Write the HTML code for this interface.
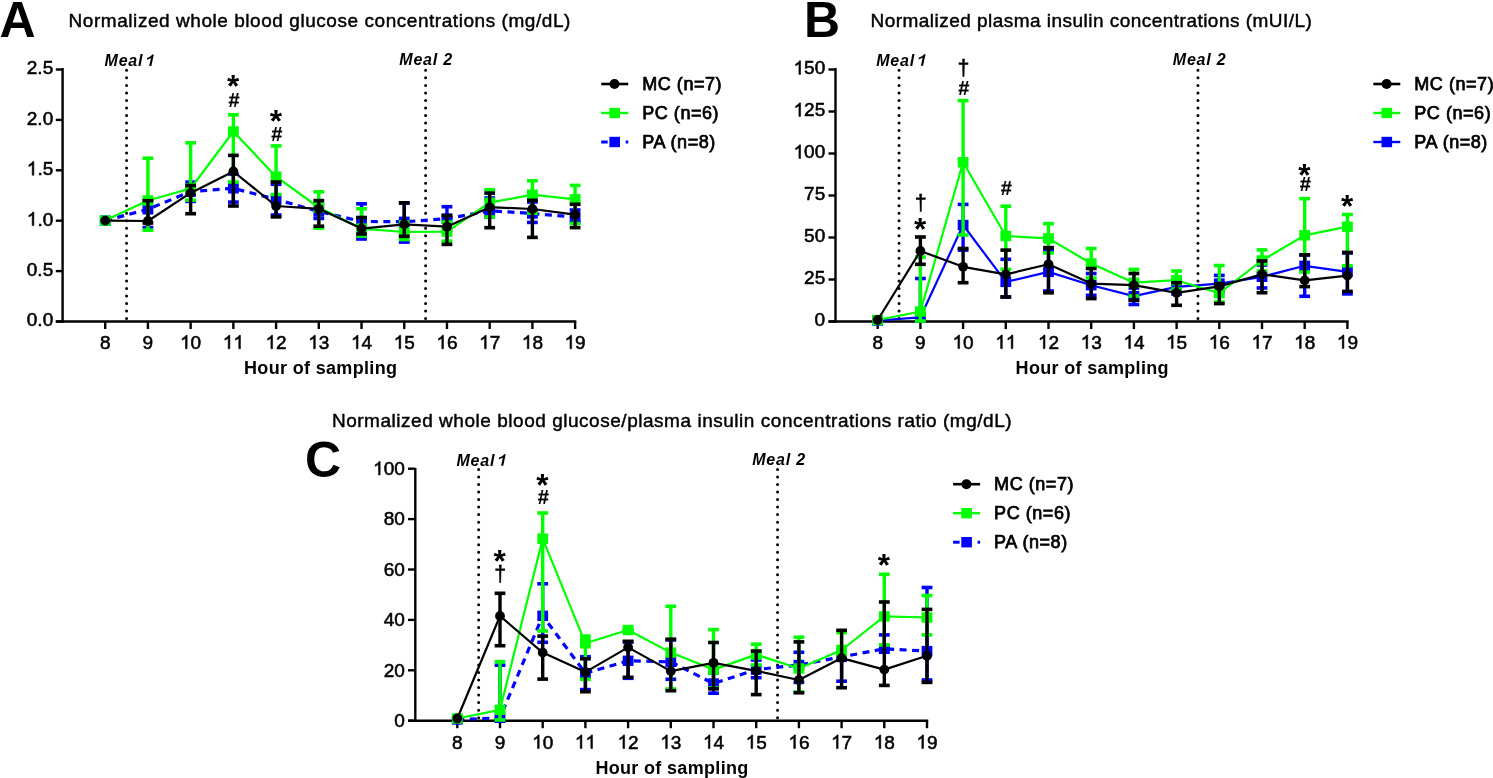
<!DOCTYPE html>
<html><head><meta charset="utf-8"><title>Chart</title>
<style>html,body{margin:0;padding:0;background:#fff;overflow:hidden}svg{display:block;will-change:transform}text{font-family:"Liberation Sans", sans-serif}</style>
</head><body>
<svg width="1493" height="778" viewBox="0 0 1493 778">
<rect width="1493" height="778" fill="#fff"/>
<line x1="62.60" y1="68.00" x2="62.60" y2="322.70" stroke="#000" stroke-width="2.4" />
<line x1="55.80" y1="321.50" x2="576.32" y2="321.50" stroke="#000" stroke-width="2.4" />
<line x1="55.80" y1="321.50" x2="62.60" y2="321.50" stroke="#000" stroke-width="2.4" />
<text x="26.8" y="326.4" font-size="19" font-weight="normal" font-style="normal" text-anchor="start" letter-spacing="0" fill="#000" stroke="#000" stroke-width="0.55">0.0</text>
<line x1="55.80" y1="271.10" x2="62.60" y2="271.10" stroke="#000" stroke-width="2.4" />
<text x="26.8" y="276.0" font-size="19" font-weight="normal" font-style="normal" text-anchor="start" letter-spacing="0" fill="#000" stroke="#000" stroke-width="0.55">0.5</text>
<line x1="55.80" y1="220.70" x2="62.60" y2="220.70" stroke="#000" stroke-width="2.4" />
<path d="M763 0L583 0L583 1147C540 1106 483 1065 412 1024C341 983 278 952 222 931L222 1105C323 1152 411 1210 486 1276C561 1342 614 1406 645 1466L763 1466Z" transform="translate(26.79,225.60) scale(0.00928,-0.00928)" fill="#000" stroke="#000" stroke-width="59.3"/>
<text x="37.4" y="225.6" font-size="19" font-weight="normal" font-style="normal" text-anchor="start" letter-spacing="0" fill="#000" stroke="#000" stroke-width="0.55">.0</text>
<line x1="55.80" y1="170.30" x2="62.60" y2="170.30" stroke="#000" stroke-width="2.4" />
<path d="M763 0L583 0L583 1147C540 1106 483 1065 412 1024C341 983 278 952 222 931L222 1105C323 1152 411 1210 486 1276C561 1342 614 1406 645 1466L763 1466Z" transform="translate(26.79,175.20) scale(0.00928,-0.00928)" fill="#000" stroke="#000" stroke-width="59.3"/>
<text x="37.4" y="175.2" font-size="19" font-weight="normal" font-style="normal" text-anchor="start" letter-spacing="0" fill="#000" stroke="#000" stroke-width="0.55">.5</text>
<line x1="55.80" y1="119.90" x2="62.60" y2="119.90" stroke="#000" stroke-width="2.4" />
<text x="26.8" y="124.8" font-size="19" font-weight="normal" font-style="normal" text-anchor="start" letter-spacing="0" fill="#000" stroke="#000" stroke-width="0.55">2.0</text>
<line x1="55.80" y1="69.50" x2="62.60" y2="69.50" stroke="#000" stroke-width="2.4" />
<text x="26.8" y="74.4" font-size="19" font-weight="normal" font-style="normal" text-anchor="start" letter-spacing="0" fill="#000" stroke="#000" stroke-width="0.55">2.5</text>
<line x1="105.20" y1="321.50" x2="105.20" y2="329.00" stroke="#000" stroke-width="2.4" />
<text x="99.9" y="348.8" font-size="19" font-weight="normal" font-style="normal" text-anchor="start" letter-spacing="0" fill="#000" stroke="#000" stroke-width="0.55">8</text>
<line x1="147.92" y1="321.50" x2="147.92" y2="329.00" stroke="#000" stroke-width="2.4" />
<text x="142.6" y="348.8" font-size="19" font-weight="normal" font-style="normal" text-anchor="start" letter-spacing="0" fill="#000" stroke="#000" stroke-width="0.55">9</text>
<line x1="190.64" y1="321.50" x2="190.64" y2="329.00" stroke="#000" stroke-width="2.4" />
<path d="M763 0L583 0L583 1147C540 1106 483 1065 412 1024C341 983 278 952 222 931L222 1105C323 1152 411 1210 486 1276C561 1342 614 1406 645 1466L763 1466Z" transform="translate(180.07,348.80) scale(0.00928,-0.00928)" fill="#000" stroke="#000" stroke-width="59.3"/>
<text x="190.6" y="348.8" font-size="19" font-weight="normal" font-style="normal" text-anchor="start" letter-spacing="0" fill="#000" stroke="#000" stroke-width="0.55">0</text>
<line x1="233.36" y1="321.50" x2="233.36" y2="329.00" stroke="#000" stroke-width="2.4" />
<path d="M763 0L583 0L583 1147C540 1106 483 1065 412 1024C341 983 278 952 222 931L222 1105C323 1152 411 1210 486 1276C561 1342 614 1406 645 1466L763 1466Z" transform="translate(222.79,348.80) scale(0.00928,-0.00928)" fill="#000" stroke="#000" stroke-width="59.3"/>
<path d="M763 0L583 0L583 1147C540 1106 483 1065 412 1024C341 983 278 952 222 931L222 1105C323 1152 411 1210 486 1276C561 1342 614 1406 645 1466L763 1466Z" transform="translate(233.36,348.80) scale(0.00928,-0.00928)" fill="#000" stroke="#000" stroke-width="59.3"/>
<line x1="276.08" y1="321.50" x2="276.08" y2="329.00" stroke="#000" stroke-width="2.4" />
<path d="M763 0L583 0L583 1147C540 1106 483 1065 412 1024C341 983 278 952 222 931L222 1105C323 1152 411 1210 486 1276C561 1342 614 1406 645 1466L763 1466Z" transform="translate(265.51,348.80) scale(0.00928,-0.00928)" fill="#000" stroke="#000" stroke-width="59.3"/>
<text x="276.1" y="348.8" font-size="19" font-weight="normal" font-style="normal" text-anchor="start" letter-spacing="0" fill="#000" stroke="#000" stroke-width="0.55">2</text>
<line x1="318.80" y1="321.50" x2="318.80" y2="329.00" stroke="#000" stroke-width="2.4" />
<path d="M763 0L583 0L583 1147C540 1106 483 1065 412 1024C341 983 278 952 222 931L222 1105C323 1152 411 1210 486 1276C561 1342 614 1406 645 1466L763 1466Z" transform="translate(308.23,348.80) scale(0.00928,-0.00928)" fill="#000" stroke="#000" stroke-width="59.3"/>
<text x="318.8" y="348.8" font-size="19" font-weight="normal" font-style="normal" text-anchor="start" letter-spacing="0" fill="#000" stroke="#000" stroke-width="0.55">3</text>
<line x1="361.52" y1="321.50" x2="361.52" y2="329.00" stroke="#000" stroke-width="2.4" />
<path d="M763 0L583 0L583 1147C540 1106 483 1065 412 1024C341 983 278 952 222 931L222 1105C323 1152 411 1210 486 1276C561 1342 614 1406 645 1466L763 1466Z" transform="translate(350.95,348.80) scale(0.00928,-0.00928)" fill="#000" stroke="#000" stroke-width="59.3"/>
<text x="361.5" y="348.8" font-size="19" font-weight="normal" font-style="normal" text-anchor="start" letter-spacing="0" fill="#000" stroke="#000" stroke-width="0.55">4</text>
<line x1="404.24" y1="321.50" x2="404.24" y2="329.00" stroke="#000" stroke-width="2.4" />
<path d="M763 0L583 0L583 1147C540 1106 483 1065 412 1024C341 983 278 952 222 931L222 1105C323 1152 411 1210 486 1276C561 1342 614 1406 645 1466L763 1466Z" transform="translate(393.67,348.80) scale(0.00928,-0.00928)" fill="#000" stroke="#000" stroke-width="59.3"/>
<text x="404.2" y="348.8" font-size="19" font-weight="normal" font-style="normal" text-anchor="start" letter-spacing="0" fill="#000" stroke="#000" stroke-width="0.55">5</text>
<line x1="446.96" y1="321.50" x2="446.96" y2="329.00" stroke="#000" stroke-width="2.4" />
<path d="M763 0L583 0L583 1147C540 1106 483 1065 412 1024C341 983 278 952 222 931L222 1105C323 1152 411 1210 486 1276C561 1342 614 1406 645 1466L763 1466Z" transform="translate(436.39,348.80) scale(0.00928,-0.00928)" fill="#000" stroke="#000" stroke-width="59.3"/>
<text x="447.0" y="348.8" font-size="19" font-weight="normal" font-style="normal" text-anchor="start" letter-spacing="0" fill="#000" stroke="#000" stroke-width="0.55">6</text>
<line x1="489.68" y1="321.50" x2="489.68" y2="329.00" stroke="#000" stroke-width="2.4" />
<path d="M763 0L583 0L583 1147C540 1106 483 1065 412 1024C341 983 278 952 222 931L222 1105C323 1152 411 1210 486 1276C561 1342 614 1406 645 1466L763 1466Z" transform="translate(479.11,348.80) scale(0.00928,-0.00928)" fill="#000" stroke="#000" stroke-width="59.3"/>
<text x="489.7" y="348.8" font-size="19" font-weight="normal" font-style="normal" text-anchor="start" letter-spacing="0" fill="#000" stroke="#000" stroke-width="0.55">7</text>
<line x1="532.40" y1="321.50" x2="532.40" y2="329.00" stroke="#000" stroke-width="2.4" />
<path d="M763 0L583 0L583 1147C540 1106 483 1065 412 1024C341 983 278 952 222 931L222 1105C323 1152 411 1210 486 1276C561 1342 614 1406 645 1466L763 1466Z" transform="translate(521.83,348.80) scale(0.00928,-0.00928)" fill="#000" stroke="#000" stroke-width="59.3"/>
<text x="532.4" y="348.8" font-size="19" font-weight="normal" font-style="normal" text-anchor="start" letter-spacing="0" fill="#000" stroke="#000" stroke-width="0.55">8</text>
<line x1="575.12" y1="321.50" x2="575.12" y2="329.00" stroke="#000" stroke-width="2.4" />
<path d="M763 0L583 0L583 1147C540 1106 483 1065 412 1024C341 983 278 952 222 931L222 1105C323 1152 411 1210 486 1276C561 1342 614 1406 645 1466L763 1466Z" transform="translate(564.55,348.80) scale(0.00928,-0.00928)" fill="#000" stroke="#000" stroke-width="59.3"/>
<text x="575.1" y="348.8" font-size="19" font-weight="normal" font-style="normal" text-anchor="start" letter-spacing="0" fill="#000" stroke="#000" stroke-width="0.55">9</text>
<text x="244.0" y="373.9" font-size="18" font-weight="bold" font-style="normal" text-anchor="start" letter-spacing="0.33" fill="#000">Hour of sampling</text>
<line x1="126.56" y1="70.34" x2="126.56" y2="320.50" stroke="#000" stroke-width="3" stroke-dasharray="0 7.52" stroke-linecap="round"/>
<line x1="425.60" y1="70.34" x2="425.60" y2="320.50" stroke="#000" stroke-width="3" stroke-dasharray="0 7.52" stroke-linecap="round"/>
<text x="104.5" y="66.0" font-size="16" font-weight="bold" font-style="italic" text-anchor="start" letter-spacing="0.8" fill="#000">Meal</text>
<path d="M1006 0L731 0L731 1036C620 932 470 850 260 790L260 1040C365 1072 480 1130 590 1215C700 1300 775 1384 810 1466L1006 1466Z" transform="translate(143.50,66.00) skewX(-12) scale(0.00781,-0.00781)" fill="#000"/>
<text x="399.3" y="65.2" font-size="16" font-weight="bold" font-style="italic" text-anchor="start" letter-spacing="0.8" fill="#000">Meal 2</text>
<text x="68.6" y="26.7" font-size="19" font-weight="normal" font-style="normal" text-anchor="start" letter-spacing="0.55" fill="#000" stroke="#000" stroke-width="0.45">Normalized whole blood glucose concentrations (mg/dL)</text>
<text x="-0.5" y="37.2" font-size="50" font-weight="bold" font-style="normal" text-anchor="start" letter-spacing="0" fill="#000">A</text>
<line x1="147.92" y1="200.50" x2="147.92" y2="227.50" stroke="#0000ff" stroke-width="3.4" />
<line x1="142.52" y1="200.50" x2="153.32" y2="200.50" stroke="#0000ff" stroke-width="3.6" />
<line x1="142.52" y1="227.50" x2="153.32" y2="227.50" stroke="#0000ff" stroke-width="3.6" />
<line x1="190.64" y1="182.10" x2="190.64" y2="201.40" stroke="#0000ff" stroke-width="3.4" />
<line x1="185.24" y1="182.10" x2="196.04" y2="182.10" stroke="#0000ff" stroke-width="3.6" />
<line x1="185.24" y1="201.40" x2="196.04" y2="201.40" stroke="#0000ff" stroke-width="3.6" />
<line x1="233.36" y1="174.00" x2="233.36" y2="202.10" stroke="#0000ff" stroke-width="3.4" />
<line x1="227.96" y1="174.00" x2="238.76" y2="174.00" stroke="#0000ff" stroke-width="3.6" />
<line x1="227.96" y1="202.10" x2="238.76" y2="202.10" stroke="#0000ff" stroke-width="3.6" />
<line x1="276.08" y1="184.30" x2="276.08" y2="215.00" stroke="#0000ff" stroke-width="3.4" />
<line x1="270.68" y1="184.30" x2="281.48" y2="184.30" stroke="#0000ff" stroke-width="3.6" />
<line x1="270.68" y1="215.00" x2="281.48" y2="215.00" stroke="#0000ff" stroke-width="3.6" />
<line x1="318.80" y1="204.30" x2="318.80" y2="218.50" stroke="#0000ff" stroke-width="3.4" />
<line x1="313.40" y1="204.30" x2="324.20" y2="204.30" stroke="#0000ff" stroke-width="3.6" />
<line x1="313.40" y1="218.50" x2="324.20" y2="218.50" stroke="#0000ff" stroke-width="3.6" />
<line x1="361.52" y1="203.80" x2="361.52" y2="239.00" stroke="#0000ff" stroke-width="3.4" />
<line x1="356.12" y1="203.80" x2="366.92" y2="203.80" stroke="#0000ff" stroke-width="3.6" />
<line x1="356.12" y1="239.00" x2="366.92" y2="239.00" stroke="#0000ff" stroke-width="3.6" />
<line x1="404.24" y1="203.00" x2="404.24" y2="242.10" stroke="#0000ff" stroke-width="3.4" />
<line x1="398.84" y1="203.00" x2="409.64" y2="203.00" stroke="#0000ff" stroke-width="3.6" />
<line x1="398.84" y1="242.10" x2="409.64" y2="242.10" stroke="#0000ff" stroke-width="3.6" />
<line x1="446.96" y1="206.70" x2="446.96" y2="231.00" stroke="#0000ff" stroke-width="3.4" />
<line x1="441.56" y1="206.70" x2="452.36" y2="206.70" stroke="#0000ff" stroke-width="3.6" />
<line x1="441.56" y1="231.00" x2="452.36" y2="231.00" stroke="#0000ff" stroke-width="3.6" />
<line x1="489.68" y1="198.00" x2="489.68" y2="217.00" stroke="#0000ff" stroke-width="3.4" />
<line x1="484.28" y1="198.00" x2="495.08" y2="198.00" stroke="#0000ff" stroke-width="3.6" />
<line x1="484.28" y1="217.00" x2="495.08" y2="217.00" stroke="#0000ff" stroke-width="3.6" />
<line x1="532.40" y1="202.00" x2="532.40" y2="222.40" stroke="#0000ff" stroke-width="3.4" />
<line x1="527.00" y1="202.00" x2="537.80" y2="202.00" stroke="#0000ff" stroke-width="3.6" />
<line x1="527.00" y1="222.40" x2="537.80" y2="222.40" stroke="#0000ff" stroke-width="3.6" />
<line x1="575.12" y1="210.00" x2="575.12" y2="222.40" stroke="#0000ff" stroke-width="3.4" />
<line x1="569.72" y1="210.00" x2="580.52" y2="210.00" stroke="#0000ff" stroke-width="3.6" />
<line x1="569.72" y1="222.40" x2="580.52" y2="222.40" stroke="#0000ff" stroke-width="3.6" />
<polyline points="105.20,220.60 147.92,209.30 190.64,191.60 233.36,188.30 276.08,199.40 318.80,211.50 361.52,221.40 404.24,221.80 446.96,218.70 489.68,210.80 532.40,213.50 575.12,217.10" fill="none" stroke="#0000ff" stroke-width="3.2" stroke-dasharray="7 5.5" stroke-linejoin="round"/>
<rect x="99.80" y="215.40" width="10.8" height="10.4" fill="#0000ff"/>
<rect x="142.52" y="204.10" width="10.8" height="10.4" fill="#0000ff"/>
<rect x="185.24" y="186.40" width="10.8" height="10.4" fill="#0000ff"/>
<rect x="227.96" y="183.10" width="10.8" height="10.4" fill="#0000ff"/>
<rect x="270.68" y="194.20" width="10.8" height="10.4" fill="#0000ff"/>
<rect x="313.40" y="206.30" width="10.8" height="10.4" fill="#0000ff"/>
<rect x="356.12" y="216.20" width="10.8" height="10.4" fill="#0000ff"/>
<rect x="398.84" y="216.60" width="10.8" height="10.4" fill="#0000ff"/>
<rect x="441.56" y="213.50" width="10.8" height="10.4" fill="#0000ff"/>
<rect x="484.28" y="205.60" width="10.8" height="10.4" fill="#0000ff"/>
<rect x="527.00" y="208.30" width="10.8" height="10.4" fill="#0000ff"/>
<rect x="569.72" y="211.90" width="10.8" height="10.4" fill="#0000ff"/>
<line x1="147.92" y1="158.20" x2="147.92" y2="230.20" stroke="#00ff00" stroke-width="3.4" />
<line x1="142.52" y1="158.20" x2="153.32" y2="158.20" stroke="#00ff00" stroke-width="3.6" />
<line x1="142.52" y1="230.20" x2="153.32" y2="230.20" stroke="#00ff00" stroke-width="3.6" />
<line x1="190.64" y1="142.80" x2="190.64" y2="200.20" stroke="#00ff00" stroke-width="3.4" />
<line x1="185.24" y1="142.80" x2="196.04" y2="142.80" stroke="#00ff00" stroke-width="3.6" />
<line x1="185.24" y1="200.20" x2="196.04" y2="200.20" stroke="#00ff00" stroke-width="3.6" />
<line x1="233.36" y1="114.80" x2="233.36" y2="182.00" stroke="#00ff00" stroke-width="3.4" />
<line x1="227.96" y1="114.80" x2="238.76" y2="114.80" stroke="#00ff00" stroke-width="3.6" />
<line x1="227.96" y1="182.00" x2="238.76" y2="182.00" stroke="#00ff00" stroke-width="3.6" />
<line x1="276.08" y1="145.90" x2="276.08" y2="194.50" stroke="#00ff00" stroke-width="3.4" />
<line x1="270.68" y1="145.90" x2="281.48" y2="145.90" stroke="#00ff00" stroke-width="3.6" />
<line x1="270.68" y1="194.50" x2="281.48" y2="194.50" stroke="#00ff00" stroke-width="3.6" />
<line x1="318.80" y1="191.80" x2="318.80" y2="228.10" stroke="#00ff00" stroke-width="3.4" />
<line x1="313.40" y1="191.80" x2="324.20" y2="191.80" stroke="#00ff00" stroke-width="3.6" />
<line x1="313.40" y1="228.10" x2="324.20" y2="228.10" stroke="#00ff00" stroke-width="3.6" />
<line x1="361.52" y1="208.80" x2="361.52" y2="236.00" stroke="#00ff00" stroke-width="3.4" />
<line x1="356.12" y1="208.80" x2="366.92" y2="208.80" stroke="#00ff00" stroke-width="3.6" />
<line x1="356.12" y1="236.00" x2="366.92" y2="236.00" stroke="#00ff00" stroke-width="3.6" />
<line x1="404.24" y1="222.00" x2="404.24" y2="239.50" stroke="#00ff00" stroke-width="3.4" />
<line x1="398.84" y1="222.00" x2="409.64" y2="222.00" stroke="#00ff00" stroke-width="3.6" />
<line x1="398.84" y1="239.50" x2="409.64" y2="239.50" stroke="#00ff00" stroke-width="3.6" />
<line x1="446.96" y1="222.00" x2="446.96" y2="241.20" stroke="#00ff00" stroke-width="3.4" />
<line x1="441.56" y1="222.00" x2="452.36" y2="222.00" stroke="#00ff00" stroke-width="3.6" />
<line x1="441.56" y1="241.20" x2="452.36" y2="241.20" stroke="#00ff00" stroke-width="3.6" />
<line x1="489.68" y1="189.70" x2="489.68" y2="217.00" stroke="#00ff00" stroke-width="3.4" />
<line x1="484.28" y1="189.70" x2="495.08" y2="189.70" stroke="#00ff00" stroke-width="3.6" />
<line x1="484.28" y1="217.00" x2="495.08" y2="217.00" stroke="#00ff00" stroke-width="3.6" />
<line x1="532.40" y1="180.80" x2="532.40" y2="213.20" stroke="#00ff00" stroke-width="3.4" />
<line x1="527.00" y1="180.80" x2="537.80" y2="180.80" stroke="#00ff00" stroke-width="3.6" />
<line x1="527.00" y1="213.20" x2="537.80" y2="213.20" stroke="#00ff00" stroke-width="3.6" />
<line x1="575.12" y1="185.40" x2="575.12" y2="223.50" stroke="#00ff00" stroke-width="3.4" />
<line x1="569.72" y1="185.40" x2="580.52" y2="185.40" stroke="#00ff00" stroke-width="3.6" />
<line x1="569.72" y1="223.50" x2="580.52" y2="223.50" stroke="#00ff00" stroke-width="3.6" />
<polyline points="105.20,220.60 147.92,200.50 190.64,188.50 233.36,131.50 276.08,176.70 318.80,207.50 361.52,228.60 404.24,232.00 446.96,231.60 489.68,202.70 532.40,194.70 575.12,199.30" fill="none" stroke="#00ff00" stroke-width="2.2" stroke-linejoin="round"/>
<rect x="99.80" y="215.40" width="10.8" height="10.4" fill="#00ff00"/>
<rect x="142.52" y="195.30" width="10.8" height="10.4" fill="#00ff00"/>
<rect x="185.24" y="183.30" width="10.8" height="10.4" fill="#00ff00"/>
<rect x="227.96" y="126.30" width="10.8" height="10.4" fill="#00ff00"/>
<rect x="270.68" y="171.50" width="10.8" height="10.4" fill="#00ff00"/>
<rect x="313.40" y="202.30" width="10.8" height="10.4" fill="#00ff00"/>
<rect x="356.12" y="223.40" width="10.8" height="10.4" fill="#00ff00"/>
<rect x="398.84" y="226.80" width="10.8" height="10.4" fill="#00ff00"/>
<rect x="441.56" y="226.40" width="10.8" height="10.4" fill="#00ff00"/>
<rect x="484.28" y="197.50" width="10.8" height="10.4" fill="#00ff00"/>
<rect x="527.00" y="189.50" width="10.8" height="10.4" fill="#00ff00"/>
<rect x="569.72" y="194.10" width="10.8" height="10.4" fill="#00ff00"/>
<line x1="147.92" y1="200.70" x2="147.92" y2="223.00" stroke="#000000" stroke-width="3.4" />
<line x1="142.52" y1="200.70" x2="153.32" y2="200.70" stroke="#000000" stroke-width="3.6" />
<line x1="142.52" y1="223.00" x2="153.32" y2="223.00" stroke="#000000" stroke-width="3.6" />
<line x1="190.64" y1="185.50" x2="190.64" y2="213.70" stroke="#000000" stroke-width="3.4" />
<line x1="185.24" y1="185.50" x2="196.04" y2="185.50" stroke="#000000" stroke-width="3.6" />
<line x1="185.24" y1="213.70" x2="196.04" y2="213.70" stroke="#000000" stroke-width="3.6" />
<line x1="233.36" y1="155.40" x2="233.36" y2="206.00" stroke="#000000" stroke-width="3.4" />
<line x1="227.96" y1="155.40" x2="238.76" y2="155.40" stroke="#000000" stroke-width="3.6" />
<line x1="227.96" y1="206.00" x2="238.76" y2="206.00" stroke="#000000" stroke-width="3.6" />
<line x1="276.08" y1="182.00" x2="276.08" y2="216.90" stroke="#000000" stroke-width="3.4" />
<line x1="270.68" y1="182.00" x2="281.48" y2="182.00" stroke="#000000" stroke-width="3.6" />
<line x1="270.68" y1="216.90" x2="281.48" y2="216.90" stroke="#000000" stroke-width="3.6" />
<line x1="318.80" y1="200.60" x2="318.80" y2="226.20" stroke="#000000" stroke-width="3.4" />
<line x1="313.40" y1="200.60" x2="324.20" y2="200.60" stroke="#000000" stroke-width="3.6" />
<line x1="313.40" y1="226.20" x2="324.20" y2="226.20" stroke="#000000" stroke-width="3.6" />
<line x1="361.52" y1="217.50" x2="361.52" y2="234.00" stroke="#000000" stroke-width="3.4" />
<line x1="356.12" y1="217.50" x2="366.92" y2="217.50" stroke="#000000" stroke-width="3.6" />
<line x1="356.12" y1="234.00" x2="366.92" y2="234.00" stroke="#000000" stroke-width="3.6" />
<line x1="404.24" y1="202.80" x2="404.24" y2="236.30" stroke="#000000" stroke-width="3.4" />
<line x1="398.84" y1="202.80" x2="409.64" y2="202.80" stroke="#000000" stroke-width="3.6" />
<line x1="398.84" y1="236.30" x2="409.64" y2="236.30" stroke="#000000" stroke-width="3.6" />
<line x1="446.96" y1="215.50" x2="446.96" y2="244.40" stroke="#000000" stroke-width="3.4" />
<line x1="441.56" y1="215.50" x2="452.36" y2="215.50" stroke="#000000" stroke-width="3.6" />
<line x1="441.56" y1="244.40" x2="452.36" y2="244.40" stroke="#000000" stroke-width="3.6" />
<line x1="489.68" y1="193.10" x2="489.68" y2="227.70" stroke="#000000" stroke-width="3.4" />
<line x1="484.28" y1="193.10" x2="495.08" y2="193.10" stroke="#000000" stroke-width="3.6" />
<line x1="484.28" y1="227.70" x2="495.08" y2="227.70" stroke="#000000" stroke-width="3.6" />
<line x1="532.40" y1="200.30" x2="532.40" y2="237.40" stroke="#000000" stroke-width="3.4" />
<line x1="527.00" y1="200.30" x2="537.80" y2="200.30" stroke="#000000" stroke-width="3.6" />
<line x1="527.00" y1="237.40" x2="537.80" y2="237.40" stroke="#000000" stroke-width="3.6" />
<line x1="575.12" y1="204.30" x2="575.12" y2="227.60" stroke="#000000" stroke-width="3.4" />
<line x1="569.72" y1="204.30" x2="580.52" y2="204.30" stroke="#000000" stroke-width="3.6" />
<line x1="569.72" y1="227.60" x2="580.52" y2="227.60" stroke="#000000" stroke-width="3.6" />
<polyline points="105.20,220.60 147.92,221.00 190.64,192.90 233.36,171.50 276.08,206.00 318.80,208.80 361.52,228.60 404.24,224.40 446.96,226.70 489.68,207.20 532.40,209.00 575.12,214.70" fill="none" stroke="#000000" stroke-width="2.2" stroke-linejoin="round"/>
<circle cx="105.20" cy="220.60" r="4.9" fill="#000000"/>
<circle cx="147.92" cy="221.00" r="4.9" fill="#000000"/>
<circle cx="190.64" cy="192.90" r="4.9" fill="#000000"/>
<circle cx="233.36" cy="171.50" r="4.9" fill="#000000"/>
<circle cx="276.08" cy="206.00" r="4.9" fill="#000000"/>
<circle cx="318.80" cy="208.80" r="4.9" fill="#000000"/>
<circle cx="361.52" cy="228.60" r="4.9" fill="#000000"/>
<circle cx="404.24" cy="224.40" r="4.9" fill="#000000"/>
<circle cx="446.96" cy="226.70" r="4.9" fill="#000000"/>
<circle cx="489.68" cy="207.20" r="4.9" fill="#000000"/>
<circle cx="532.40" cy="209.00" r="4.9" fill="#000000"/>
<circle cx="575.12" cy="214.70" r="4.9" fill="#000000"/>
<text x="233.1" y="97.4" font-size="31.5" font-weight="bold" font-style="normal" text-anchor="middle" letter-spacing="0" fill="#000">*</text>
<text x="234.0" y="106.6" font-size="20" font-weight="bold" font-style="normal" text-anchor="middle" letter-spacing="0" fill="#000" stroke="#000" stroke-width="0.2">#</text>
<text x="275.8" y="132.1" font-size="31.5" font-weight="bold" font-style="normal" text-anchor="middle" letter-spacing="0" fill="#000">*</text>
<text x="276.7" y="140.8" font-size="20" font-weight="bold" font-style="normal" text-anchor="middle" letter-spacing="0" fill="#000" stroke="#000" stroke-width="0.2">#</text>
<line x1="601.20" y1="84.00" x2="628.20" y2="84.00" stroke="#000000" stroke-width="2.6" />
<circle cx="614.50" cy="84.00" r="5" fill="#000000"/>
<text x="642.2" y="90.2" font-size="18" font-weight="normal" font-style="normal" text-anchor="start" letter-spacing="0.55" fill="#000" stroke="#000" stroke-width="0.75">MC (n=7)</text>
<line x1="601.20" y1="113.00" x2="628.20" y2="113.00" stroke="#00ff00" stroke-width="2.4" />
<rect x="609.40" y="107.80" width="10.6" height="10.4" fill="#00ff00"/>
<text x="642.2" y="119.2" font-size="18" font-weight="normal" font-style="normal" text-anchor="start" letter-spacing="0.55" fill="#000" stroke="#000" stroke-width="0.75">PC (n=6)</text>
<line x1="601.20" y1="142.00" x2="607.70" y2="142.00" stroke="#0000ff" stroke-width="3" />
<line x1="625.70" y1="142.00" x2="628.20" y2="142.00" stroke="#0000ff" stroke-width="3" />
<rect x="609.40" y="136.80" width="10.6" height="10.4" fill="#0000ff"/>
<text x="642.2" y="148.2" font-size="18" font-weight="normal" font-style="normal" text-anchor="start" letter-spacing="0.55" fill="#000" stroke="#000" stroke-width="0.75">PA (n=8)</text>
<line x1="835.50" y1="68.00" x2="835.50" y2="322.70" stroke="#000" stroke-width="2.4" />
<line x1="828.50" y1="321.50" x2="1348.60" y2="321.50" stroke="#000" stroke-width="2.4" />
<line x1="828.50" y1="321.50" x2="835.50" y2="321.50" stroke="#000" stroke-width="2.4" />
<text x="814.6" y="326.4" font-size="19" font-weight="normal" font-style="normal" text-anchor="start" letter-spacing="0" fill="#000" stroke="#000" stroke-width="0.55">0</text>
<line x1="828.50" y1="279.50" x2="835.50" y2="279.50" stroke="#000" stroke-width="2.4" />
<text x="804.1" y="284.4" font-size="19" font-weight="normal" font-style="normal" text-anchor="start" letter-spacing="0" fill="#000" stroke="#000" stroke-width="0.55">25</text>
<line x1="828.50" y1="237.50" x2="835.50" y2="237.50" stroke="#000" stroke-width="2.4" />
<text x="804.1" y="242.4" font-size="19" font-weight="normal" font-style="normal" text-anchor="start" letter-spacing="0" fill="#000" stroke="#000" stroke-width="0.55">50</text>
<line x1="828.50" y1="195.50" x2="835.50" y2="195.50" stroke="#000" stroke-width="2.4" />
<text x="804.1" y="200.4" font-size="19" font-weight="normal" font-style="normal" text-anchor="start" letter-spacing="0" fill="#000" stroke="#000" stroke-width="0.55">75</text>
<line x1="828.50" y1="153.50" x2="835.50" y2="153.50" stroke="#000" stroke-width="2.4" />
<path d="M763 0L583 0L583 1147C540 1106 483 1065 412 1024C341 983 278 952 222 931L222 1105C323 1152 411 1210 486 1276C561 1342 614 1406 645 1466L763 1466Z" transform="translate(793.50,158.40) scale(0.00928,-0.00928)" fill="#000" stroke="#000" stroke-width="59.3"/>
<text x="804.1" y="158.4" font-size="19" font-weight="normal" font-style="normal" text-anchor="start" letter-spacing="0" fill="#000" stroke="#000" stroke-width="0.55">00</text>
<line x1="828.50" y1="111.50" x2="835.50" y2="111.50" stroke="#000" stroke-width="2.4" />
<path d="M763 0L583 0L583 1147C540 1106 483 1065 412 1024C341 983 278 952 222 931L222 1105C323 1152 411 1210 486 1276C561 1342 614 1406 645 1466L763 1466Z" transform="translate(793.50,116.40) scale(0.00928,-0.00928)" fill="#000" stroke="#000" stroke-width="59.3"/>
<text x="804.1" y="116.4" font-size="19" font-weight="normal" font-style="normal" text-anchor="start" letter-spacing="0" fill="#000" stroke="#000" stroke-width="0.55">25</text>
<line x1="828.50" y1="69.50" x2="835.50" y2="69.50" stroke="#000" stroke-width="2.4" />
<path d="M763 0L583 0L583 1147C540 1106 483 1065 412 1024C341 983 278 952 222 931L222 1105C323 1152 411 1210 486 1276C561 1342 614 1406 645 1466L763 1466Z" transform="translate(793.50,74.40) scale(0.00928,-0.00928)" fill="#000" stroke="#000" stroke-width="59.3"/>
<text x="804.1" y="74.4" font-size="19" font-weight="normal" font-style="normal" text-anchor="start" letter-spacing="0" fill="#000" stroke="#000" stroke-width="0.55">50</text>
<line x1="877.70" y1="321.50" x2="877.70" y2="329.00" stroke="#000" stroke-width="2.4" />
<text x="872.4" y="348.6" font-size="19" font-weight="normal" font-style="normal" text-anchor="start" letter-spacing="0" fill="#000" stroke="#000" stroke-width="0.55">8</text>
<line x1="920.40" y1="321.50" x2="920.40" y2="329.00" stroke="#000" stroke-width="2.4" />
<text x="915.1" y="348.6" font-size="19" font-weight="normal" font-style="normal" text-anchor="start" letter-spacing="0" fill="#000" stroke="#000" stroke-width="0.55">9</text>
<line x1="963.10" y1="321.50" x2="963.10" y2="329.00" stroke="#000" stroke-width="2.4" />
<path d="M763 0L583 0L583 1147C540 1106 483 1065 412 1024C341 983 278 952 222 931L222 1105C323 1152 411 1210 486 1276C561 1342 614 1406 645 1466L763 1466Z" transform="translate(952.53,348.60) scale(0.00928,-0.00928)" fill="#000" stroke="#000" stroke-width="59.3"/>
<text x="963.1" y="348.6" font-size="19" font-weight="normal" font-style="normal" text-anchor="start" letter-spacing="0" fill="#000" stroke="#000" stroke-width="0.55">0</text>
<line x1="1005.80" y1="321.50" x2="1005.80" y2="329.00" stroke="#000" stroke-width="2.4" />
<path d="M763 0L583 0L583 1147C540 1106 483 1065 412 1024C341 983 278 952 222 931L222 1105C323 1152 411 1210 486 1276C561 1342 614 1406 645 1466L763 1466Z" transform="translate(995.23,348.60) scale(0.00928,-0.00928)" fill="#000" stroke="#000" stroke-width="59.3"/>
<path d="M763 0L583 0L583 1147C540 1106 483 1065 412 1024C341 983 278 952 222 931L222 1105C323 1152 411 1210 486 1276C561 1342 614 1406 645 1466L763 1466Z" transform="translate(1005.80,348.60) scale(0.00928,-0.00928)" fill="#000" stroke="#000" stroke-width="59.3"/>
<line x1="1048.50" y1="321.50" x2="1048.50" y2="329.00" stroke="#000" stroke-width="2.4" />
<path d="M763 0L583 0L583 1147C540 1106 483 1065 412 1024C341 983 278 952 222 931L222 1105C323 1152 411 1210 486 1276C561 1342 614 1406 645 1466L763 1466Z" transform="translate(1037.93,348.60) scale(0.00928,-0.00928)" fill="#000" stroke="#000" stroke-width="59.3"/>
<text x="1048.5" y="348.6" font-size="19" font-weight="normal" font-style="normal" text-anchor="start" letter-spacing="0" fill="#000" stroke="#000" stroke-width="0.55">2</text>
<line x1="1091.20" y1="321.50" x2="1091.20" y2="329.00" stroke="#000" stroke-width="2.4" />
<path d="M763 0L583 0L583 1147C540 1106 483 1065 412 1024C341 983 278 952 222 931L222 1105C323 1152 411 1210 486 1276C561 1342 614 1406 645 1466L763 1466Z" transform="translate(1080.63,348.60) scale(0.00928,-0.00928)" fill="#000" stroke="#000" stroke-width="59.3"/>
<text x="1091.2" y="348.6" font-size="19" font-weight="normal" font-style="normal" text-anchor="start" letter-spacing="0" fill="#000" stroke="#000" stroke-width="0.55">3</text>
<line x1="1133.90" y1="321.50" x2="1133.90" y2="329.00" stroke="#000" stroke-width="2.4" />
<path d="M763 0L583 0L583 1147C540 1106 483 1065 412 1024C341 983 278 952 222 931L222 1105C323 1152 411 1210 486 1276C561 1342 614 1406 645 1466L763 1466Z" transform="translate(1123.33,348.60) scale(0.00928,-0.00928)" fill="#000" stroke="#000" stroke-width="59.3"/>
<text x="1133.9" y="348.6" font-size="19" font-weight="normal" font-style="normal" text-anchor="start" letter-spacing="0" fill="#000" stroke="#000" stroke-width="0.55">4</text>
<line x1="1176.60" y1="321.50" x2="1176.60" y2="329.00" stroke="#000" stroke-width="2.4" />
<path d="M763 0L583 0L583 1147C540 1106 483 1065 412 1024C341 983 278 952 222 931L222 1105C323 1152 411 1210 486 1276C561 1342 614 1406 645 1466L763 1466Z" transform="translate(1166.03,348.60) scale(0.00928,-0.00928)" fill="#000" stroke="#000" stroke-width="59.3"/>
<text x="1176.6" y="348.6" font-size="19" font-weight="normal" font-style="normal" text-anchor="start" letter-spacing="0" fill="#000" stroke="#000" stroke-width="0.55">5</text>
<line x1="1219.30" y1="321.50" x2="1219.30" y2="329.00" stroke="#000" stroke-width="2.4" />
<path d="M763 0L583 0L583 1147C540 1106 483 1065 412 1024C341 983 278 952 222 931L222 1105C323 1152 411 1210 486 1276C561 1342 614 1406 645 1466L763 1466Z" transform="translate(1208.73,348.60) scale(0.00928,-0.00928)" fill="#000" stroke="#000" stroke-width="59.3"/>
<text x="1219.3" y="348.6" font-size="19" font-weight="normal" font-style="normal" text-anchor="start" letter-spacing="0" fill="#000" stroke="#000" stroke-width="0.55">6</text>
<line x1="1262.00" y1="321.50" x2="1262.00" y2="329.00" stroke="#000" stroke-width="2.4" />
<path d="M763 0L583 0L583 1147C540 1106 483 1065 412 1024C341 983 278 952 222 931L222 1105C323 1152 411 1210 486 1276C561 1342 614 1406 645 1466L763 1466Z" transform="translate(1251.43,348.60) scale(0.00928,-0.00928)" fill="#000" stroke="#000" stroke-width="59.3"/>
<text x="1262.0" y="348.6" font-size="19" font-weight="normal" font-style="normal" text-anchor="start" letter-spacing="0" fill="#000" stroke="#000" stroke-width="0.55">7</text>
<line x1="1304.70" y1="321.50" x2="1304.70" y2="329.00" stroke="#000" stroke-width="2.4" />
<path d="M763 0L583 0L583 1147C540 1106 483 1065 412 1024C341 983 278 952 222 931L222 1105C323 1152 411 1210 486 1276C561 1342 614 1406 645 1466L763 1466Z" transform="translate(1294.13,348.60) scale(0.00928,-0.00928)" fill="#000" stroke="#000" stroke-width="59.3"/>
<text x="1304.7" y="348.6" font-size="19" font-weight="normal" font-style="normal" text-anchor="start" letter-spacing="0" fill="#000" stroke="#000" stroke-width="0.55">8</text>
<line x1="1347.40" y1="321.50" x2="1347.40" y2="329.00" stroke="#000" stroke-width="2.4" />
<path d="M763 0L583 0L583 1147C540 1106 483 1065 412 1024C341 983 278 952 222 931L222 1105C323 1152 411 1210 486 1276C561 1342 614 1406 645 1466L763 1466Z" transform="translate(1336.83,348.60) scale(0.00928,-0.00928)" fill="#000" stroke="#000" stroke-width="59.3"/>
<text x="1347.4" y="348.6" font-size="19" font-weight="normal" font-style="normal" text-anchor="start" letter-spacing="0" fill="#000" stroke="#000" stroke-width="0.55">9</text>
<text x="1015.6" y="373.9" font-size="18" font-weight="bold" font-style="normal" text-anchor="start" letter-spacing="0.33" fill="#000">Hour of sampling</text>
<line x1="899.05" y1="70.34" x2="899.05" y2="320.50" stroke="#000" stroke-width="3" stroke-dasharray="0 7.52" stroke-linecap="round"/>
<line x1="1197.95" y1="70.34" x2="1197.95" y2="320.50" stroke="#000" stroke-width="3" stroke-dasharray="0 7.52" stroke-linecap="round"/>
<text x="876.2" y="65.7" font-size="16" font-weight="bold" font-style="italic" text-anchor="start" letter-spacing="0.8" fill="#000">Meal</text>
<path d="M1006 0L731 0L731 1036C620 932 470 850 260 790L260 1040C365 1072 480 1130 590 1215C700 1300 775 1384 810 1466L1006 1466Z" transform="translate(915.20,65.70) skewX(-12) scale(0.00781,-0.00781)" fill="#000"/>
<text x="1172.8" y="64.9" font-size="16" font-weight="bold" font-style="italic" text-anchor="start" letter-spacing="0.8" fill="#000">Meal 2</text>
<text x="870.5" y="26.7" font-size="19" font-weight="normal" font-style="normal" text-anchor="start" letter-spacing="0.47" fill="#000" stroke="#000" stroke-width="0.45">Normalized plasma insulin concentrations (mUI/L)</text>
<text x="804.0" y="36.8" font-size="50" font-weight="bold" font-style="normal" text-anchor="start" letter-spacing="0" fill="#000">B</text>
<line x1="920.40" y1="278.50" x2="920.40" y2="321.00" stroke="#0000ff" stroke-width="3.4" />
<line x1="915.00" y1="278.50" x2="925.80" y2="278.50" stroke="#0000ff" stroke-width="3.6" />
<line x1="915.00" y1="321.00" x2="925.80" y2="321.00" stroke="#0000ff" stroke-width="3.6" />
<line x1="963.10" y1="204.40" x2="963.10" y2="250.10" stroke="#0000ff" stroke-width="3.4" />
<line x1="957.70" y1="204.40" x2="968.50" y2="204.40" stroke="#0000ff" stroke-width="3.6" />
<line x1="957.70" y1="250.10" x2="968.50" y2="250.10" stroke="#0000ff" stroke-width="3.6" />
<line x1="1005.80" y1="259.30" x2="1005.80" y2="297.00" stroke="#0000ff" stroke-width="3.4" />
<line x1="1000.40" y1="259.30" x2="1011.20" y2="259.30" stroke="#0000ff" stroke-width="3.6" />
<line x1="1000.40" y1="297.00" x2="1011.20" y2="297.00" stroke="#0000ff" stroke-width="3.6" />
<line x1="1048.50" y1="250.10" x2="1048.50" y2="291.00" stroke="#0000ff" stroke-width="3.4" />
<line x1="1043.10" y1="250.10" x2="1053.90" y2="250.10" stroke="#0000ff" stroke-width="3.6" />
<line x1="1043.10" y1="291.00" x2="1053.90" y2="291.00" stroke="#0000ff" stroke-width="3.6" />
<line x1="1091.20" y1="273.50" x2="1091.20" y2="295.30" stroke="#0000ff" stroke-width="3.4" />
<line x1="1085.80" y1="273.50" x2="1096.60" y2="273.50" stroke="#0000ff" stroke-width="3.6" />
<line x1="1085.80" y1="295.30" x2="1096.60" y2="295.30" stroke="#0000ff" stroke-width="3.6" />
<line x1="1133.90" y1="288.00" x2="1133.90" y2="304.50" stroke="#0000ff" stroke-width="3.4" />
<line x1="1128.50" y1="288.00" x2="1139.30" y2="288.00" stroke="#0000ff" stroke-width="3.6" />
<line x1="1128.50" y1="304.50" x2="1139.30" y2="304.50" stroke="#0000ff" stroke-width="3.6" />
<line x1="1176.60" y1="280.00" x2="1176.60" y2="294.00" stroke="#0000ff" stroke-width="3.4" />
<line x1="1171.20" y1="280.00" x2="1182.00" y2="280.00" stroke="#0000ff" stroke-width="3.6" />
<line x1="1171.20" y1="294.00" x2="1182.00" y2="294.00" stroke="#0000ff" stroke-width="3.6" />
<line x1="1219.30" y1="275.40" x2="1219.30" y2="292.00" stroke="#0000ff" stroke-width="3.4" />
<line x1="1213.90" y1="275.40" x2="1224.70" y2="275.40" stroke="#0000ff" stroke-width="3.6" />
<line x1="1213.90" y1="292.00" x2="1224.70" y2="292.00" stroke="#0000ff" stroke-width="3.6" />
<line x1="1262.00" y1="265.00" x2="1262.00" y2="288.00" stroke="#0000ff" stroke-width="3.4" />
<line x1="1256.60" y1="265.00" x2="1267.40" y2="265.00" stroke="#0000ff" stroke-width="3.6" />
<line x1="1256.60" y1="288.00" x2="1267.40" y2="288.00" stroke="#0000ff" stroke-width="3.6" />
<line x1="1304.70" y1="255.00" x2="1304.70" y2="296.30" stroke="#0000ff" stroke-width="3.4" />
<line x1="1299.30" y1="255.00" x2="1310.10" y2="255.00" stroke="#0000ff" stroke-width="3.6" />
<line x1="1299.30" y1="296.30" x2="1310.10" y2="296.30" stroke="#0000ff" stroke-width="3.6" />
<line x1="1347.40" y1="253.00" x2="1347.40" y2="293.90" stroke="#0000ff" stroke-width="3.4" />
<line x1="1342.00" y1="253.00" x2="1352.80" y2="253.00" stroke="#0000ff" stroke-width="3.6" />
<line x1="1342.00" y1="293.90" x2="1352.80" y2="293.90" stroke="#0000ff" stroke-width="3.6" />
<polyline points="877.70,320.50 920.40,317.30 963.10,225.00 1005.80,281.90 1048.50,271.90 1091.20,285.20 1133.90,296.10 1176.60,286.90 1219.30,283.60 1262.00,276.80 1304.70,265.80 1347.40,271.90" fill="none" stroke="#0000ff" stroke-width="2.2"  stroke-linejoin="round"/>
<rect x="872.30" y="315.30" width="10.8" height="10.4" fill="#0000ff"/>
<rect x="915.00" y="312.10" width="10.8" height="10.4" fill="#0000ff"/>
<rect x="957.70" y="219.80" width="10.8" height="10.4" fill="#0000ff"/>
<rect x="1000.40" y="276.70" width="10.8" height="10.4" fill="#0000ff"/>
<rect x="1043.10" y="266.70" width="10.8" height="10.4" fill="#0000ff"/>
<rect x="1085.80" y="280.00" width="10.8" height="10.4" fill="#0000ff"/>
<rect x="1128.50" y="290.90" width="10.8" height="10.4" fill="#0000ff"/>
<rect x="1171.20" y="281.70" width="10.8" height="10.4" fill="#0000ff"/>
<rect x="1213.90" y="278.40" width="10.8" height="10.4" fill="#0000ff"/>
<rect x="1256.60" y="271.60" width="10.8" height="10.4" fill="#0000ff"/>
<rect x="1299.30" y="260.60" width="10.8" height="10.4" fill="#0000ff"/>
<rect x="1342.00" y="266.70" width="10.8" height="10.4" fill="#0000ff"/>
<line x1="920.40" y1="257.00" x2="920.40" y2="321.00" stroke="#00ff00" stroke-width="3.4" />
<line x1="915.00" y1="257.00" x2="925.80" y2="257.00" stroke="#00ff00" stroke-width="3.6" />
<line x1="915.00" y1="321.00" x2="925.80" y2="321.00" stroke="#00ff00" stroke-width="3.6" />
<line x1="963.10" y1="100.60" x2="963.10" y2="235.00" stroke="#00ff00" stroke-width="3.4" />
<line x1="957.70" y1="100.60" x2="968.50" y2="100.60" stroke="#00ff00" stroke-width="3.6" />
<line x1="957.70" y1="235.00" x2="968.50" y2="235.00" stroke="#00ff00" stroke-width="3.6" />
<line x1="1005.80" y1="206.20" x2="1005.80" y2="269.40" stroke="#00ff00" stroke-width="3.4" />
<line x1="1000.40" y1="206.20" x2="1011.20" y2="206.20" stroke="#00ff00" stroke-width="3.6" />
<line x1="1000.40" y1="269.40" x2="1011.20" y2="269.40" stroke="#00ff00" stroke-width="3.6" />
<line x1="1048.50" y1="223.60" x2="1048.50" y2="253.00" stroke="#00ff00" stroke-width="3.4" />
<line x1="1043.10" y1="223.60" x2="1053.90" y2="223.60" stroke="#00ff00" stroke-width="3.6" />
<line x1="1043.10" y1="253.00" x2="1053.90" y2="253.00" stroke="#00ff00" stroke-width="3.6" />
<line x1="1091.20" y1="248.50" x2="1091.20" y2="278.00" stroke="#00ff00" stroke-width="3.4" />
<line x1="1085.80" y1="248.50" x2="1096.60" y2="248.50" stroke="#00ff00" stroke-width="3.6" />
<line x1="1085.80" y1="278.00" x2="1096.60" y2="278.00" stroke="#00ff00" stroke-width="3.6" />
<line x1="1133.90" y1="269.40" x2="1133.90" y2="296.00" stroke="#00ff00" stroke-width="3.4" />
<line x1="1128.50" y1="269.40" x2="1139.30" y2="269.40" stroke="#00ff00" stroke-width="3.6" />
<line x1="1128.50" y1="296.00" x2="1139.30" y2="296.00" stroke="#00ff00" stroke-width="3.6" />
<line x1="1176.60" y1="271.00" x2="1176.60" y2="289.00" stroke="#00ff00" stroke-width="3.4" />
<line x1="1171.20" y1="271.00" x2="1182.00" y2="271.00" stroke="#00ff00" stroke-width="3.6" />
<line x1="1171.20" y1="289.00" x2="1182.00" y2="289.00" stroke="#00ff00" stroke-width="3.6" />
<line x1="1219.30" y1="265.50" x2="1219.30" y2="302.00" stroke="#00ff00" stroke-width="3.4" />
<line x1="1213.90" y1="265.50" x2="1224.70" y2="265.50" stroke="#00ff00" stroke-width="3.6" />
<line x1="1213.90" y1="302.00" x2="1224.70" y2="302.00" stroke="#00ff00" stroke-width="3.6" />
<line x1="1262.00" y1="249.90" x2="1262.00" y2="271.00" stroke="#00ff00" stroke-width="3.4" />
<line x1="1256.60" y1="249.90" x2="1267.40" y2="249.90" stroke="#00ff00" stroke-width="3.6" />
<line x1="1256.60" y1="271.00" x2="1267.40" y2="271.00" stroke="#00ff00" stroke-width="3.6" />
<line x1="1304.70" y1="198.60" x2="1304.70" y2="272.00" stroke="#00ff00" stroke-width="3.4" />
<line x1="1299.30" y1="198.60" x2="1310.10" y2="198.60" stroke="#00ff00" stroke-width="3.6" />
<line x1="1299.30" y1="272.00" x2="1310.10" y2="272.00" stroke="#00ff00" stroke-width="3.6" />
<line x1="1347.40" y1="214.50" x2="1347.40" y2="265.80" stroke="#00ff00" stroke-width="3.4" />
<line x1="1342.00" y1="214.50" x2="1352.80" y2="214.50" stroke="#00ff00" stroke-width="3.6" />
<line x1="1342.00" y1="265.80" x2="1352.80" y2="265.80" stroke="#00ff00" stroke-width="3.6" />
<polyline points="877.70,320.00 920.40,311.50 963.10,162.30 1005.80,236.00 1048.50,238.40 1091.20,263.50 1133.90,282.70 1176.60,280.20 1219.30,293.20 1262.00,260.50 1304.70,235.30 1347.40,226.70" fill="none" stroke="#00ff00" stroke-width="2.2" stroke-linejoin="round"/>
<rect x="872.30" y="314.80" width="10.8" height="10.4" fill="#00ff00"/>
<rect x="915.00" y="306.30" width="10.8" height="10.4" fill="#00ff00"/>
<rect x="957.70" y="157.10" width="10.8" height="10.4" fill="#00ff00"/>
<rect x="1000.40" y="230.80" width="10.8" height="10.4" fill="#00ff00"/>
<rect x="1043.10" y="233.20" width="10.8" height="10.4" fill="#00ff00"/>
<rect x="1085.80" y="258.30" width="10.8" height="10.4" fill="#00ff00"/>
<rect x="1128.50" y="277.50" width="10.8" height="10.4" fill="#00ff00"/>
<rect x="1171.20" y="275.00" width="10.8" height="10.4" fill="#00ff00"/>
<rect x="1213.90" y="288.00" width="10.8" height="10.4" fill="#00ff00"/>
<rect x="1256.60" y="255.30" width="10.8" height="10.4" fill="#00ff00"/>
<rect x="1299.30" y="230.10" width="10.8" height="10.4" fill="#00ff00"/>
<rect x="1342.00" y="221.50" width="10.8" height="10.4" fill="#00ff00"/>
<line x1="920.40" y1="237.00" x2="920.40" y2="264.30" stroke="#000000" stroke-width="3.4" />
<line x1="915.00" y1="237.00" x2="925.80" y2="237.00" stroke="#000000" stroke-width="3.6" />
<line x1="915.00" y1="264.30" x2="925.80" y2="264.30" stroke="#000000" stroke-width="3.6" />
<line x1="963.10" y1="248.50" x2="963.10" y2="282.70" stroke="#000000" stroke-width="3.4" />
<line x1="957.70" y1="248.50" x2="968.50" y2="248.50" stroke="#000000" stroke-width="3.6" />
<line x1="957.70" y1="282.70" x2="968.50" y2="282.70" stroke="#000000" stroke-width="3.6" />
<line x1="1005.80" y1="250.10" x2="1005.80" y2="297.00" stroke="#000000" stroke-width="3.4" />
<line x1="1000.40" y1="250.10" x2="1011.20" y2="250.10" stroke="#000000" stroke-width="3.6" />
<line x1="1000.40" y1="297.00" x2="1011.20" y2="297.00" stroke="#000000" stroke-width="3.6" />
<line x1="1048.50" y1="247.60" x2="1048.50" y2="292.80" stroke="#000000" stroke-width="3.4" />
<line x1="1043.10" y1="247.60" x2="1053.90" y2="247.60" stroke="#000000" stroke-width="3.6" />
<line x1="1043.10" y1="292.80" x2="1053.90" y2="292.80" stroke="#000000" stroke-width="3.6" />
<line x1="1091.20" y1="268.50" x2="1091.20" y2="298.60" stroke="#000000" stroke-width="3.4" />
<line x1="1085.80" y1="268.50" x2="1096.60" y2="268.50" stroke="#000000" stroke-width="3.6" />
<line x1="1085.80" y1="298.60" x2="1096.60" y2="298.60" stroke="#000000" stroke-width="3.6" />
<line x1="1133.90" y1="273.50" x2="1133.90" y2="300.30" stroke="#000000" stroke-width="3.4" />
<line x1="1128.50" y1="273.50" x2="1139.30" y2="273.50" stroke="#000000" stroke-width="3.6" />
<line x1="1128.50" y1="300.30" x2="1139.30" y2="300.30" stroke="#000000" stroke-width="3.6" />
<line x1="1176.60" y1="282.70" x2="1176.60" y2="305.30" stroke="#000000" stroke-width="3.4" />
<line x1="1171.20" y1="282.70" x2="1182.00" y2="282.70" stroke="#000000" stroke-width="3.6" />
<line x1="1171.20" y1="305.30" x2="1182.00" y2="305.30" stroke="#000000" stroke-width="3.6" />
<line x1="1219.30" y1="284.00" x2="1219.30" y2="303.60" stroke="#000000" stroke-width="3.4" />
<line x1="1213.90" y1="284.00" x2="1224.70" y2="284.00" stroke="#000000" stroke-width="3.6" />
<line x1="1213.90" y1="303.60" x2="1224.70" y2="303.60" stroke="#000000" stroke-width="3.6" />
<line x1="1262.00" y1="260.90" x2="1262.00" y2="292.70" stroke="#000000" stroke-width="3.4" />
<line x1="1256.60" y1="260.90" x2="1267.40" y2="260.90" stroke="#000000" stroke-width="3.6" />
<line x1="1256.60" y1="292.70" x2="1267.40" y2="292.70" stroke="#000000" stroke-width="3.6" />
<line x1="1304.70" y1="254.80" x2="1304.70" y2="286.60" stroke="#000000" stroke-width="3.4" />
<line x1="1299.30" y1="254.80" x2="1310.10" y2="254.80" stroke="#000000" stroke-width="3.6" />
<line x1="1299.30" y1="286.60" x2="1310.10" y2="286.60" stroke="#000000" stroke-width="3.6" />
<line x1="1347.40" y1="252.40" x2="1347.40" y2="291.40" stroke="#000000" stroke-width="3.4" />
<line x1="1342.00" y1="252.40" x2="1352.80" y2="252.40" stroke="#000000" stroke-width="3.6" />
<line x1="1342.00" y1="291.40" x2="1352.80" y2="291.40" stroke="#000000" stroke-width="3.6" />
<polyline points="877.70,320.00 920.40,251.00 963.10,266.80 1005.80,274.40 1048.50,264.30 1091.20,283.60 1133.90,285.20 1176.60,292.80 1219.30,286.40 1262.00,274.30 1304.70,280.40 1347.40,275.60" fill="none" stroke="#000000" stroke-width="2.2" stroke-linejoin="round"/>
<circle cx="877.70" cy="320.00" r="4.9" fill="#000000"/>
<circle cx="920.40" cy="251.00" r="4.9" fill="#000000"/>
<circle cx="963.10" cy="266.80" r="4.9" fill="#000000"/>
<circle cx="1005.80" cy="274.40" r="4.9" fill="#000000"/>
<circle cx="1048.50" cy="264.30" r="4.9" fill="#000000"/>
<circle cx="1091.20" cy="283.60" r="4.9" fill="#000000"/>
<circle cx="1133.90" cy="285.20" r="4.9" fill="#000000"/>
<circle cx="1176.60" cy="292.80" r="4.9" fill="#000000"/>
<circle cx="1219.30" cy="286.40" r="4.9" fill="#000000"/>
<circle cx="1262.00" cy="274.30" r="4.9" fill="#000000"/>
<circle cx="1304.70" cy="280.40" r="4.9" fill="#000000"/>
<circle cx="1347.40" cy="275.60" r="4.9" fill="#000000"/>
<text x="920.7" y="210.2" font-size="21.5" font-weight="normal" font-style="normal" text-anchor="middle" letter-spacing="0" fill="#000" stroke="#000" stroke-width="0.5">&#8224;</text>
<text x="920.1" y="239.7" font-size="31.5" font-weight="bold" font-style="normal" text-anchor="middle" letter-spacing="0" fill="#000">*</text>
<text x="963.4" y="75.1" font-size="21.5" font-weight="normal" font-style="normal" text-anchor="middle" letter-spacing="0" fill="#000" stroke="#000" stroke-width="0.5">&#8224;</text>
<text x="963.7" y="94.6" font-size="20" font-weight="bold" font-style="normal" text-anchor="middle" letter-spacing="0" fill="#000" stroke="#000" stroke-width="0.2">#</text>
<text x="1006.4" y="195.0" font-size="20" font-weight="bold" font-style="normal" text-anchor="middle" letter-spacing="0" fill="#000" stroke="#000" stroke-width="0.2">#</text>
<text x="1304.4" y="185.5" font-size="31.5" font-weight="bold" font-style="normal" text-anchor="middle" letter-spacing="0" fill="#000">*</text>
<text x="1305.3" y="191.3" font-size="20" font-weight="bold" font-style="normal" text-anchor="middle" letter-spacing="0" fill="#000" stroke="#000" stroke-width="0.2">#</text>
<text x="1347.1" y="217.1" font-size="31.5" font-weight="bold" font-style="normal" text-anchor="middle" letter-spacing="0" fill="#000">*</text>
<line x1="1373.30" y1="84.00" x2="1400.30" y2="84.00" stroke="#000000" stroke-width="2.6" />
<circle cx="1386.60" cy="84.00" r="5" fill="#000000"/>
<text x="1414.3" y="90.2" font-size="18" font-weight="normal" font-style="normal" text-anchor="start" letter-spacing="0.55" fill="#000" stroke="#000" stroke-width="0.75">MC (n=7)</text>
<line x1="1373.30" y1="113.00" x2="1400.30" y2="113.00" stroke="#00ff00" stroke-width="2.4" />
<rect x="1381.50" y="107.80" width="10.6" height="10.4" fill="#00ff00"/>
<text x="1414.3" y="119.2" font-size="18" font-weight="normal" font-style="normal" text-anchor="start" letter-spacing="0.55" fill="#000" stroke="#000" stroke-width="0.75">PC (n=6)</text>
<line x1="1373.30" y1="142.00" x2="1400.30" y2="142.00" stroke="#0000ff" stroke-width="2.4" />
<rect x="1381.50" y="136.80" width="10.6" height="10.4" fill="#0000ff"/>
<text x="1414.3" y="148.2" font-size="18" font-weight="normal" font-style="normal" text-anchor="start" letter-spacing="0.55" fill="#000" stroke="#000" stroke-width="0.75">PA (n=8)</text>
<line x1="415.30" y1="468.00" x2="415.30" y2="721.90" stroke="#000" stroke-width="2.4" />
<line x1="408.00" y1="720.70" x2="928.20" y2="720.70" stroke="#000" stroke-width="2.4" />
<line x1="408.00" y1="720.70" x2="415.30" y2="720.70" stroke="#000" stroke-width="2.4" />
<text x="394.2" y="727.0" font-size="19" font-weight="normal" font-style="normal" text-anchor="start" letter-spacing="0" fill="#000" stroke="#000" stroke-width="0.55">0</text>
<line x1="408.00" y1="670.30" x2="415.30" y2="670.30" stroke="#000" stroke-width="2.4" />
<text x="383.7" y="676.6" font-size="19" font-weight="normal" font-style="normal" text-anchor="start" letter-spacing="0" fill="#000" stroke="#000" stroke-width="0.55">20</text>
<line x1="408.00" y1="619.90" x2="415.30" y2="619.90" stroke="#000" stroke-width="2.4" />
<text x="383.7" y="626.2" font-size="19" font-weight="normal" font-style="normal" text-anchor="start" letter-spacing="0" fill="#000" stroke="#000" stroke-width="0.55">40</text>
<line x1="408.00" y1="569.50" x2="415.30" y2="569.50" stroke="#000" stroke-width="2.4" />
<text x="383.7" y="575.8" font-size="19" font-weight="normal" font-style="normal" text-anchor="start" letter-spacing="0" fill="#000" stroke="#000" stroke-width="0.55">60</text>
<line x1="408.00" y1="519.10" x2="415.30" y2="519.10" stroke="#000" stroke-width="2.4" />
<text x="383.7" y="525.4" font-size="19" font-weight="normal" font-style="normal" text-anchor="start" letter-spacing="0" fill="#000" stroke="#000" stroke-width="0.55">80</text>
<line x1="408.00" y1="468.70" x2="415.30" y2="468.70" stroke="#000" stroke-width="2.4" />
<path d="M763 0L583 0L583 1147C540 1106 483 1065 412 1024C341 983 278 952 222 931L222 1105C323 1152 411 1210 486 1276C561 1342 614 1406 645 1466L763 1466Z" transform="translate(373.10,475.00) scale(0.00928,-0.00928)" fill="#000" stroke="#000" stroke-width="59.3"/>
<text x="383.7" y="475.0" font-size="19" font-weight="normal" font-style="normal" text-anchor="start" letter-spacing="0" fill="#000" stroke="#000" stroke-width="0.55">00</text>
<line x1="457.30" y1="720.70" x2="457.30" y2="728.20" stroke="#000" stroke-width="2.4" />
<text x="452.0" y="748.5" font-size="19" font-weight="normal" font-style="normal" text-anchor="start" letter-spacing="0" fill="#000" stroke="#000" stroke-width="0.55">8</text>
<line x1="500.00" y1="720.70" x2="500.00" y2="728.20" stroke="#000" stroke-width="2.4" />
<text x="494.7" y="748.5" font-size="19" font-weight="normal" font-style="normal" text-anchor="start" letter-spacing="0" fill="#000" stroke="#000" stroke-width="0.55">9</text>
<line x1="542.70" y1="720.70" x2="542.70" y2="728.20" stroke="#000" stroke-width="2.4" />
<path d="M763 0L583 0L583 1147C540 1106 483 1065 412 1024C341 983 278 952 222 931L222 1105C323 1152 411 1210 486 1276C561 1342 614 1406 645 1466L763 1466Z" transform="translate(532.13,748.50) scale(0.00928,-0.00928)" fill="#000" stroke="#000" stroke-width="59.3"/>
<text x="542.7" y="748.5" font-size="19" font-weight="normal" font-style="normal" text-anchor="start" letter-spacing="0" fill="#000" stroke="#000" stroke-width="0.55">0</text>
<line x1="585.40" y1="720.70" x2="585.40" y2="728.20" stroke="#000" stroke-width="2.4" />
<path d="M763 0L583 0L583 1147C540 1106 483 1065 412 1024C341 983 278 952 222 931L222 1105C323 1152 411 1210 486 1276C561 1342 614 1406 645 1466L763 1466Z" transform="translate(574.83,748.50) scale(0.00928,-0.00928)" fill="#000" stroke="#000" stroke-width="59.3"/>
<path d="M763 0L583 0L583 1147C540 1106 483 1065 412 1024C341 983 278 952 222 931L222 1105C323 1152 411 1210 486 1276C561 1342 614 1406 645 1466L763 1466Z" transform="translate(585.40,748.50) scale(0.00928,-0.00928)" fill="#000" stroke="#000" stroke-width="59.3"/>
<line x1="628.10" y1="720.70" x2="628.10" y2="728.20" stroke="#000" stroke-width="2.4" />
<path d="M763 0L583 0L583 1147C540 1106 483 1065 412 1024C341 983 278 952 222 931L222 1105C323 1152 411 1210 486 1276C561 1342 614 1406 645 1466L763 1466Z" transform="translate(617.53,748.50) scale(0.00928,-0.00928)" fill="#000" stroke="#000" stroke-width="59.3"/>
<text x="628.1" y="748.5" font-size="19" font-weight="normal" font-style="normal" text-anchor="start" letter-spacing="0" fill="#000" stroke="#000" stroke-width="0.55">2</text>
<line x1="670.80" y1="720.70" x2="670.80" y2="728.20" stroke="#000" stroke-width="2.4" />
<path d="M763 0L583 0L583 1147C540 1106 483 1065 412 1024C341 983 278 952 222 931L222 1105C323 1152 411 1210 486 1276C561 1342 614 1406 645 1466L763 1466Z" transform="translate(660.23,748.50) scale(0.00928,-0.00928)" fill="#000" stroke="#000" stroke-width="59.3"/>
<text x="670.8" y="748.5" font-size="19" font-weight="normal" font-style="normal" text-anchor="start" letter-spacing="0" fill="#000" stroke="#000" stroke-width="0.55">3</text>
<line x1="713.50" y1="720.70" x2="713.50" y2="728.20" stroke="#000" stroke-width="2.4" />
<path d="M763 0L583 0L583 1147C540 1106 483 1065 412 1024C341 983 278 952 222 931L222 1105C323 1152 411 1210 486 1276C561 1342 614 1406 645 1466L763 1466Z" transform="translate(702.93,748.50) scale(0.00928,-0.00928)" fill="#000" stroke="#000" stroke-width="59.3"/>
<text x="713.5" y="748.5" font-size="19" font-weight="normal" font-style="normal" text-anchor="start" letter-spacing="0" fill="#000" stroke="#000" stroke-width="0.55">4</text>
<line x1="756.20" y1="720.70" x2="756.20" y2="728.20" stroke="#000" stroke-width="2.4" />
<path d="M763 0L583 0L583 1147C540 1106 483 1065 412 1024C341 983 278 952 222 931L222 1105C323 1152 411 1210 486 1276C561 1342 614 1406 645 1466L763 1466Z" transform="translate(745.63,748.50) scale(0.00928,-0.00928)" fill="#000" stroke="#000" stroke-width="59.3"/>
<text x="756.2" y="748.5" font-size="19" font-weight="normal" font-style="normal" text-anchor="start" letter-spacing="0" fill="#000" stroke="#000" stroke-width="0.55">5</text>
<line x1="798.90" y1="720.70" x2="798.90" y2="728.20" stroke="#000" stroke-width="2.4" />
<path d="M763 0L583 0L583 1147C540 1106 483 1065 412 1024C341 983 278 952 222 931L222 1105C323 1152 411 1210 486 1276C561 1342 614 1406 645 1466L763 1466Z" transform="translate(788.33,748.50) scale(0.00928,-0.00928)" fill="#000" stroke="#000" stroke-width="59.3"/>
<text x="798.9" y="748.5" font-size="19" font-weight="normal" font-style="normal" text-anchor="start" letter-spacing="0" fill="#000" stroke="#000" stroke-width="0.55">6</text>
<line x1="841.60" y1="720.70" x2="841.60" y2="728.20" stroke="#000" stroke-width="2.4" />
<path d="M763 0L583 0L583 1147C540 1106 483 1065 412 1024C341 983 278 952 222 931L222 1105C323 1152 411 1210 486 1276C561 1342 614 1406 645 1466L763 1466Z" transform="translate(831.03,748.50) scale(0.00928,-0.00928)" fill="#000" stroke="#000" stroke-width="59.3"/>
<text x="841.6" y="748.5" font-size="19" font-weight="normal" font-style="normal" text-anchor="start" letter-spacing="0" fill="#000" stroke="#000" stroke-width="0.55">7</text>
<line x1="884.30" y1="720.70" x2="884.30" y2="728.20" stroke="#000" stroke-width="2.4" />
<path d="M763 0L583 0L583 1147C540 1106 483 1065 412 1024C341 983 278 952 222 931L222 1105C323 1152 411 1210 486 1276C561 1342 614 1406 645 1466L763 1466Z" transform="translate(873.73,748.50) scale(0.00928,-0.00928)" fill="#000" stroke="#000" stroke-width="59.3"/>
<text x="884.3" y="748.5" font-size="19" font-weight="normal" font-style="normal" text-anchor="start" letter-spacing="0" fill="#000" stroke="#000" stroke-width="0.55">8</text>
<line x1="927.00" y1="720.70" x2="927.00" y2="728.20" stroke="#000" stroke-width="2.4" />
<path d="M763 0L583 0L583 1147C540 1106 483 1065 412 1024C341 983 278 952 222 931L222 1105C323 1152 411 1210 486 1276C561 1342 614 1406 645 1466L763 1466Z" transform="translate(916.43,748.50) scale(0.00928,-0.00928)" fill="#000" stroke="#000" stroke-width="59.3"/>
<text x="927.0" y="748.5" font-size="19" font-weight="normal" font-style="normal" text-anchor="start" letter-spacing="0" fill="#000" stroke="#000" stroke-width="0.55">9</text>
<text x="595.4" y="773.8" font-size="18" font-weight="bold" font-style="normal" text-anchor="start" letter-spacing="0.33" fill="#000">Hour of sampling</text>
<line x1="478.65" y1="469.50" x2="478.65" y2="719.70" stroke="#000" stroke-width="3" stroke-dasharray="0 7.52" stroke-linecap="round"/>
<line x1="777.55" y1="469.50" x2="777.55" y2="719.70" stroke="#000" stroke-width="3" stroke-dasharray="0 7.52" stroke-linecap="round"/>
<text x="456.4" y="465.7" font-size="16" font-weight="bold" font-style="italic" text-anchor="start" letter-spacing="0.8" fill="#000">Meal</text>
<path d="M1006 0L731 0L731 1036C620 932 470 850 260 790L260 1040C365 1072 480 1130 590 1215C700 1300 775 1384 810 1466L1006 1466Z" transform="translate(495.40,465.70) skewX(-12) scale(0.00781,-0.00781)" fill="#000"/>
<text x="752.2" y="464.9" font-size="16" font-weight="bold" font-style="italic" text-anchor="start" letter-spacing="0.8" fill="#000">Meal 2</text>
<text x="331.9" y="427.2" font-size="19" font-weight="normal" font-style="normal" text-anchor="start" letter-spacing="0.53" fill="#000" stroke="#000" stroke-width="0.45">Normalized whole blood glucose/plasma insulin concentrations ratio (mg/dL)</text>
<text x="305.0" y="476.9" font-size="50" font-weight="bold" font-style="normal" text-anchor="start" letter-spacing="0" fill="#000">C</text>
<line x1="500.00" y1="665.20" x2="500.00" y2="721.00" stroke="#0000ff" stroke-width="3.4" />
<line x1="494.60" y1="665.20" x2="505.40" y2="665.20" stroke="#0000ff" stroke-width="3.6" />
<line x1="494.60" y1="721.00" x2="505.40" y2="721.00" stroke="#0000ff" stroke-width="3.6" />
<line x1="542.70" y1="583.80" x2="542.70" y2="642.30" stroke="#0000ff" stroke-width="3.4" />
<line x1="537.30" y1="583.80" x2="548.10" y2="583.80" stroke="#0000ff" stroke-width="3.6" />
<line x1="537.30" y1="642.30" x2="548.10" y2="642.30" stroke="#0000ff" stroke-width="3.6" />
<line x1="585.40" y1="656.70" x2="585.40" y2="689.60" stroke="#0000ff" stroke-width="3.4" />
<line x1="580.00" y1="656.70" x2="590.80" y2="656.70" stroke="#0000ff" stroke-width="3.6" />
<line x1="580.00" y1="689.60" x2="590.80" y2="689.60" stroke="#0000ff" stroke-width="3.6" />
<line x1="628.10" y1="642.30" x2="628.10" y2="678.30" stroke="#0000ff" stroke-width="3.4" />
<line x1="622.70" y1="642.30" x2="633.50" y2="642.30" stroke="#0000ff" stroke-width="3.6" />
<line x1="622.70" y1="678.30" x2="633.50" y2="678.30" stroke="#0000ff" stroke-width="3.6" />
<line x1="670.80" y1="640.00" x2="670.80" y2="679.30" stroke="#0000ff" stroke-width="3.4" />
<line x1="665.40" y1="640.00" x2="676.20" y2="640.00" stroke="#0000ff" stroke-width="3.6" />
<line x1="665.40" y1="679.30" x2="676.20" y2="679.30" stroke="#0000ff" stroke-width="3.6" />
<line x1="713.50" y1="673.00" x2="713.50" y2="693.20" stroke="#0000ff" stroke-width="3.4" />
<line x1="708.10" y1="673.00" x2="718.90" y2="673.00" stroke="#0000ff" stroke-width="3.6" />
<line x1="708.10" y1="693.20" x2="718.90" y2="693.20" stroke="#0000ff" stroke-width="3.6" />
<line x1="756.20" y1="660.00" x2="756.20" y2="677.70" stroke="#0000ff" stroke-width="3.4" />
<line x1="750.80" y1="660.00" x2="761.60" y2="660.00" stroke="#0000ff" stroke-width="3.6" />
<line x1="750.80" y1="677.70" x2="761.60" y2="677.70" stroke="#0000ff" stroke-width="3.6" />
<line x1="798.90" y1="652.30" x2="798.90" y2="682.40" stroke="#0000ff" stroke-width="3.4" />
<line x1="793.50" y1="652.30" x2="804.30" y2="652.30" stroke="#0000ff" stroke-width="3.6" />
<line x1="793.50" y1="682.40" x2="804.30" y2="682.40" stroke="#0000ff" stroke-width="3.6" />
<line x1="841.60" y1="652.00" x2="841.60" y2="681.20" stroke="#0000ff" stroke-width="3.4" />
<line x1="836.20" y1="652.00" x2="847.00" y2="652.00" stroke="#0000ff" stroke-width="3.6" />
<line x1="836.20" y1="681.20" x2="847.00" y2="681.20" stroke="#0000ff" stroke-width="3.6" />
<line x1="884.30" y1="634.90" x2="884.30" y2="652.00" stroke="#0000ff" stroke-width="3.4" />
<line x1="878.90" y1="634.90" x2="889.70" y2="634.90" stroke="#0000ff" stroke-width="3.6" />
<line x1="878.90" y1="652.00" x2="889.70" y2="652.00" stroke="#0000ff" stroke-width="3.6" />
<line x1="927.00" y1="587.50" x2="927.00" y2="680.00" stroke="#0000ff" stroke-width="3.4" />
<line x1="921.60" y1="587.50" x2="932.40" y2="587.50" stroke="#0000ff" stroke-width="3.6" />
<line x1="921.60" y1="680.00" x2="932.40" y2="680.00" stroke="#0000ff" stroke-width="3.6" />
<polyline points="457.30,719.50 500.00,717.80 542.70,615.80 585.40,673.20 628.10,660.80 670.80,661.90 713.50,683.50 756.20,669.60 798.90,665.00 841.60,656.90 884.30,648.80 927.00,651.10" fill="none" stroke="#0000ff" stroke-width="3.2" stroke-dasharray="7 5.5" stroke-linejoin="round"/>
<rect x="451.90" y="714.30" width="10.8" height="10.4" fill="#0000ff"/>
<rect x="494.60" y="712.60" width="10.8" height="10.4" fill="#0000ff"/>
<rect x="537.30" y="610.60" width="10.8" height="10.4" fill="#0000ff"/>
<rect x="580.00" y="668.00" width="10.8" height="10.4" fill="#0000ff"/>
<rect x="622.70" y="655.60" width="10.8" height="10.4" fill="#0000ff"/>
<rect x="665.40" y="656.70" width="10.8" height="10.4" fill="#0000ff"/>
<rect x="708.10" y="678.30" width="10.8" height="10.4" fill="#0000ff"/>
<rect x="750.80" y="664.40" width="10.8" height="10.4" fill="#0000ff"/>
<rect x="793.50" y="659.80" width="10.8" height="10.4" fill="#0000ff"/>
<rect x="836.20" y="651.70" width="10.8" height="10.4" fill="#0000ff"/>
<rect x="878.90" y="643.60" width="10.8" height="10.4" fill="#0000ff"/>
<rect x="921.60" y="645.90" width="10.8" height="10.4" fill="#0000ff"/>
<line x1="500.00" y1="661.70" x2="500.00" y2="720.00" stroke="#00ff00" stroke-width="3.4" />
<line x1="494.60" y1="661.70" x2="505.40" y2="661.70" stroke="#00ff00" stroke-width="3.6" />
<line x1="494.60" y1="720.00" x2="505.40" y2="720.00" stroke="#00ff00" stroke-width="3.6" />
<line x1="542.70" y1="513.00" x2="542.70" y2="631.00" stroke="#00ff00" stroke-width="3.4" />
<line x1="537.30" y1="513.00" x2="548.10" y2="513.00" stroke="#00ff00" stroke-width="3.6" />
<line x1="537.30" y1="631.00" x2="548.10" y2="631.00" stroke="#00ff00" stroke-width="3.6" />
<line x1="585.40" y1="636.10" x2="585.40" y2="679.30" stroke="#00ff00" stroke-width="3.4" />
<line x1="580.00" y1="636.10" x2="590.80" y2="636.10" stroke="#00ff00" stroke-width="3.6" />
<line x1="580.00" y1="679.30" x2="590.80" y2="679.30" stroke="#00ff00" stroke-width="3.6" />
<line x1="628.10" y1="630.00" x2="628.10" y2="630.00" stroke="#00ff00" stroke-width="3.4" />
<line x1="622.70" y1="630.00" x2="633.50" y2="630.00" stroke="#00ff00" stroke-width="3.6" />
<line x1="622.70" y1="630.00" x2="633.50" y2="630.00" stroke="#00ff00" stroke-width="3.6" />
<line x1="670.80" y1="606.30" x2="670.80" y2="689.00" stroke="#00ff00" stroke-width="3.4" />
<line x1="665.40" y1="606.30" x2="676.20" y2="606.30" stroke="#00ff00" stroke-width="3.6" />
<line x1="665.40" y1="689.00" x2="676.20" y2="689.00" stroke="#00ff00" stroke-width="3.6" />
<line x1="713.50" y1="629.60" x2="713.50" y2="688.00" stroke="#00ff00" stroke-width="3.4" />
<line x1="708.10" y1="629.60" x2="718.90" y2="629.60" stroke="#00ff00" stroke-width="3.6" />
<line x1="708.10" y1="688.00" x2="718.90" y2="688.00" stroke="#00ff00" stroke-width="3.6" />
<line x1="756.20" y1="644.20" x2="756.20" y2="665.00" stroke="#00ff00" stroke-width="3.4" />
<line x1="750.80" y1="644.20" x2="761.60" y2="644.20" stroke="#00ff00" stroke-width="3.6" />
<line x1="750.80" y1="665.00" x2="761.60" y2="665.00" stroke="#00ff00" stroke-width="3.6" />
<line x1="798.90" y1="637.20" x2="798.90" y2="692.00" stroke="#00ff00" stroke-width="3.4" />
<line x1="793.50" y1="637.20" x2="804.30" y2="637.20" stroke="#00ff00" stroke-width="3.6" />
<line x1="793.50" y1="692.00" x2="804.30" y2="692.00" stroke="#00ff00" stroke-width="3.6" />
<line x1="841.60" y1="632.60" x2="841.60" y2="655.00" stroke="#00ff00" stroke-width="3.4" />
<line x1="836.20" y1="632.60" x2="847.00" y2="632.60" stroke="#00ff00" stroke-width="3.6" />
<line x1="836.20" y1="655.00" x2="847.00" y2="655.00" stroke="#00ff00" stroke-width="3.6" />
<line x1="884.30" y1="574.30" x2="884.30" y2="645.00" stroke="#00ff00" stroke-width="3.4" />
<line x1="878.90" y1="574.30" x2="889.70" y2="574.30" stroke="#00ff00" stroke-width="3.6" />
<line x1="878.90" y1="645.00" x2="889.70" y2="645.00" stroke="#00ff00" stroke-width="3.6" />
<line x1="927.00" y1="595.60" x2="927.00" y2="634.90" stroke="#00ff00" stroke-width="3.4" />
<line x1="921.60" y1="595.60" x2="932.40" y2="595.60" stroke="#00ff00" stroke-width="3.6" />
<line x1="921.60" y1="634.90" x2="932.40" y2="634.90" stroke="#00ff00" stroke-width="3.6" />
<polyline points="457.30,718.50 500.00,709.80 542.70,538.70 585.40,643.30 628.10,630.00 670.80,652.60 713.50,669.60 756.20,654.60 798.90,668.50 841.60,650.00 884.30,616.40 927.00,617.50" fill="none" stroke="#00ff00" stroke-width="2.2" stroke-linejoin="round"/>
<rect x="451.90" y="713.30" width="10.8" height="10.4" fill="#00ff00"/>
<rect x="494.60" y="704.60" width="10.8" height="10.4" fill="#00ff00"/>
<rect x="537.30" y="533.50" width="10.8" height="10.4" fill="#00ff00"/>
<rect x="580.00" y="638.10" width="10.8" height="10.4" fill="#00ff00"/>
<rect x="622.70" y="624.80" width="10.8" height="10.4" fill="#00ff00"/>
<rect x="665.40" y="647.40" width="10.8" height="10.4" fill="#00ff00"/>
<rect x="708.10" y="664.40" width="10.8" height="10.4" fill="#00ff00"/>
<rect x="750.80" y="649.40" width="10.8" height="10.4" fill="#00ff00"/>
<rect x="793.50" y="663.30" width="10.8" height="10.4" fill="#00ff00"/>
<rect x="836.20" y="644.80" width="10.8" height="10.4" fill="#00ff00"/>
<rect x="878.90" y="611.20" width="10.8" height="10.4" fill="#00ff00"/>
<rect x="921.60" y="612.30" width="10.8" height="10.4" fill="#00ff00"/>
<line x1="500.00" y1="593.30" x2="500.00" y2="645.70" stroke="#000000" stroke-width="3.4" />
<line x1="494.60" y1="593.30" x2="505.40" y2="593.30" stroke="#000000" stroke-width="3.6" />
<line x1="494.60" y1="645.70" x2="505.40" y2="645.70" stroke="#000000" stroke-width="3.6" />
<line x1="542.70" y1="636.10" x2="542.70" y2="679.10" stroke="#000000" stroke-width="3.4" />
<line x1="537.30" y1="636.10" x2="548.10" y2="636.10" stroke="#000000" stroke-width="3.6" />
<line x1="537.30" y1="679.10" x2="548.10" y2="679.10" stroke="#000000" stroke-width="3.6" />
<line x1="585.40" y1="658.80" x2="585.40" y2="691.70" stroke="#000000" stroke-width="3.4" />
<line x1="580.00" y1="658.80" x2="590.80" y2="658.80" stroke="#000000" stroke-width="3.6" />
<line x1="580.00" y1="691.70" x2="590.80" y2="691.70" stroke="#000000" stroke-width="3.6" />
<line x1="628.10" y1="641.30" x2="628.10" y2="677.30" stroke="#000000" stroke-width="3.4" />
<line x1="622.70" y1="641.30" x2="633.50" y2="641.30" stroke="#000000" stroke-width="3.6" />
<line x1="622.70" y1="677.30" x2="633.50" y2="677.30" stroke="#000000" stroke-width="3.6" />
<line x1="670.80" y1="639.20" x2="670.80" y2="690.70" stroke="#000000" stroke-width="3.4" />
<line x1="665.40" y1="639.20" x2="676.20" y2="639.20" stroke="#000000" stroke-width="3.6" />
<line x1="665.40" y1="690.70" x2="676.20" y2="690.70" stroke="#000000" stroke-width="3.6" />
<line x1="713.50" y1="642.50" x2="713.50" y2="688.80" stroke="#000000" stroke-width="3.4" />
<line x1="708.10" y1="642.50" x2="718.90" y2="642.50" stroke="#000000" stroke-width="3.6" />
<line x1="708.10" y1="688.80" x2="718.90" y2="688.80" stroke="#000000" stroke-width="3.6" />
<line x1="756.20" y1="651.10" x2="756.20" y2="694.60" stroke="#000000" stroke-width="3.4" />
<line x1="750.80" y1="651.10" x2="761.60" y2="651.10" stroke="#000000" stroke-width="3.6" />
<line x1="750.80" y1="694.60" x2="761.60" y2="694.60" stroke="#000000" stroke-width="3.6" />
<line x1="798.90" y1="641.90" x2="798.90" y2="692.80" stroke="#000000" stroke-width="3.4" />
<line x1="793.50" y1="641.90" x2="804.30" y2="641.90" stroke="#000000" stroke-width="3.6" />
<line x1="793.50" y1="692.80" x2="804.30" y2="692.80" stroke="#000000" stroke-width="3.6" />
<line x1="841.60" y1="630.30" x2="841.60" y2="687.70" stroke="#000000" stroke-width="3.4" />
<line x1="836.20" y1="630.30" x2="847.00" y2="630.30" stroke="#000000" stroke-width="3.6" />
<line x1="836.20" y1="687.70" x2="847.00" y2="687.70" stroke="#000000" stroke-width="3.6" />
<line x1="884.30" y1="602.00" x2="884.30" y2="685.40" stroke="#000000" stroke-width="3.4" />
<line x1="878.90" y1="602.00" x2="889.70" y2="602.00" stroke="#000000" stroke-width="3.6" />
<line x1="878.90" y1="685.40" x2="889.70" y2="685.40" stroke="#000000" stroke-width="3.6" />
<line x1="927.00" y1="609.40" x2="927.00" y2="682.40" stroke="#000000" stroke-width="3.4" />
<line x1="921.60" y1="609.40" x2="932.40" y2="609.40" stroke="#000000" stroke-width="3.6" />
<line x1="921.60" y1="682.40" x2="932.40" y2="682.40" stroke="#000000" stroke-width="3.6" />
<polyline points="457.30,718.50 500.00,616.00 542.70,652.60 585.40,672.10 628.10,647.40 670.80,671.10 713.50,662.80 756.20,670.80 798.90,680.00 841.60,658.10 884.30,669.60 927.00,655.70" fill="none" stroke="#000000" stroke-width="2.2" stroke-linejoin="round"/>
<circle cx="457.30" cy="718.50" r="4.9" fill="#000000"/>
<circle cx="500.00" cy="616.00" r="4.9" fill="#000000"/>
<circle cx="542.70" cy="652.60" r="4.9" fill="#000000"/>
<circle cx="585.40" cy="672.10" r="4.9" fill="#000000"/>
<circle cx="628.10" cy="647.40" r="4.9" fill="#000000"/>
<circle cx="670.80" cy="671.10" r="4.9" fill="#000000"/>
<circle cx="713.50" cy="662.80" r="4.9" fill="#000000"/>
<circle cx="756.20" cy="670.80" r="4.9" fill="#000000"/>
<circle cx="798.90" cy="680.00" r="4.9" fill="#000000"/>
<circle cx="841.60" cy="658.10" r="4.9" fill="#000000"/>
<circle cx="884.30" cy="669.60" r="4.9" fill="#000000"/>
<circle cx="927.00" cy="655.70" r="4.9" fill="#000000"/>
<text x="499.7" y="571.9" font-size="31.5" font-weight="bold" font-style="normal" text-anchor="middle" letter-spacing="0" fill="#000">*</text>
<text x="500.3" y="581.0" font-size="21.5" font-weight="normal" font-style="normal" text-anchor="middle" letter-spacing="0" fill="#000" stroke="#000" stroke-width="0.5">&#8224;</text>
<text x="542.4" y="496.1" font-size="31.5" font-weight="bold" font-style="normal" text-anchor="middle" letter-spacing="0" fill="#000">*</text>
<text x="543.3" y="503.8" font-size="20" font-weight="bold" font-style="normal" text-anchor="middle" letter-spacing="0" fill="#000" stroke="#000" stroke-width="0.2">#</text>
<text x="884.0" y="575.9" font-size="31.5" font-weight="bold" font-style="normal" text-anchor="middle" letter-spacing="0" fill="#000">*</text>
<line x1="953.10" y1="484.20" x2="980.10" y2="484.20" stroke="#000000" stroke-width="2.6" />
<circle cx="966.40" cy="484.20" r="5" fill="#000000"/>
<text x="994.1" y="490.4" font-size="18" font-weight="normal" font-style="normal" text-anchor="start" letter-spacing="0.55" fill="#000" stroke="#000" stroke-width="0.75">MC (n=7)</text>
<line x1="953.10" y1="513.20" x2="980.10" y2="513.20" stroke="#00ff00" stroke-width="2.4" />
<rect x="961.30" y="508.00" width="10.6" height="10.4" fill="#00ff00"/>
<text x="994.1" y="519.4" font-size="18" font-weight="normal" font-style="normal" text-anchor="start" letter-spacing="0.55" fill="#000" stroke="#000" stroke-width="0.75">PC (n=6)</text>
<line x1="953.10" y1="542.20" x2="959.60" y2="542.20" stroke="#0000ff" stroke-width="3" />
<line x1="977.60" y1="542.20" x2="980.10" y2="542.20" stroke="#0000ff" stroke-width="3" />
<rect x="961.30" y="537.00" width="10.6" height="10.4" fill="#0000ff"/>
<text x="994.1" y="548.4" font-size="18" font-weight="normal" font-style="normal" text-anchor="start" letter-spacing="0.55" fill="#000" stroke="#000" stroke-width="0.75">PA (n=8)</text>
</svg>
</body></html>
